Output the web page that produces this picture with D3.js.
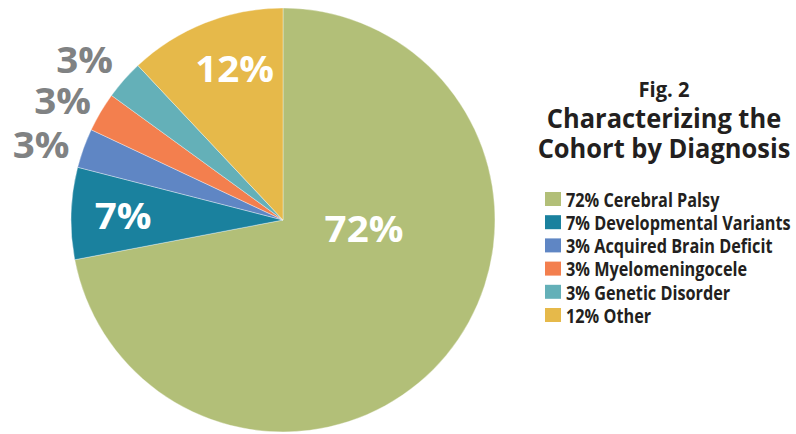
<!DOCTYPE html>
<html>
<head>
<meta charset="utf-8">
<script src="https://cdn.jsdelivr.net/npm/d3@7"></script>
<style>
  html, body { margin: 0; padding: 0; background: #fff; }
  svg { display: block; }
  text { font-family: "Open Sans", "Noto Sans", sans-serif; font-weight: 700; }
</style>
</head>
<body>
<svg id="chart" width="796" height="434"></svg>
<script>
// ---- data ----
const categories = ["Cerebral Palsy", "Developmental Variants", "Acquired Brain Deficit", "Myelomeningocele", "Genetic Disorder", "Other"];
const values = [72, 7, 3, 3, 3, 12];
const colors = ["#b2bf78", "#1a819e", "#5f86c4", "#f37f4e", "#64b0b8", "#e6b94a"];
const sliceLabels = ["72%", "7%", "3%", "3%", "3%", "12%"];
const legendLabels = ["72% Cerebral Palsy", "7% Developmental Variants", "3% Acquired Brain Deficit", "3% Myelomeningocele", "3% Genetic Disorder", "12% Other"];
const titleLines = ["Fig. 2", "Characterizing the", "Cohort by Diagnosis"];

// ---- layout ----
const cx = 283, cy = 220, R = 212;
const labelPos = [
  { dx: 81, dy: 22, inside: true },
  { dx: -160, dy: 9, inside: true },
  { dx: -242, dy: -62, inside: false },
  { dx: -220.5, dy: -106, inside: false },
  { dx: -198.5, dy: -147, inside: false },
  { dx: -48.5, dy: -138, inside: true }
];

const svg = d3.select("#chart");
const data = categories.map((c, i) => ({ cat: c, value: values[i], color: colors[i], label: sliceLabels[i], pos: labelPos[i] }));

const pie = d3.pie().value(d => d.value).sort(null);
const arc = d3.arc().innerRadius(0).outerRadius(R);

const g = svg.append("g").attr("transform", `translate(${cx},${cy})`);
const arcs = pie(data);
g.selectAll("path").data(arcs).join("path")
  .attr("d", arc)
  .attr("fill", d => d.data.color)
  .attr("stroke", "#ffffff")
  .attr("stroke-opacity", 0.6)
  .attr("stroke-width", 0.6);

const sliceText = g.selectAll("text.slice").data(arcs).join("text")
  .attr("class", "slice")
  .attr("x", d => d.data.pos.dx)
  .attr("y", d => d.data.pos.dy)
  .attr("text-anchor", "middle")
  .attr("font-size", 36)
  .attr("fill", d => d.data.pos.inside ? "#ffffff" : "#808283")
  .text(d => d.data.label);

// ---- title ----
const title = svg.append("g");
const titleSpec = [
  { y: 97, size: 21 },
  { y: 128, size: 26.5 },
  { y: 158, size: 26.5 }
];
const titleText = titleLines.map((t, i) => title.append("text")
    .attr("x", 664)
    .attr("y", titleSpec[i].y)
    .attr("text-anchor", "middle")
    .attr("font-size", titleSpec[i].size)
    .attr("fill", "#231f20")
    .text(t));

// ---- legend ----
const legend = svg.append("g").attr("transform", "translate(545,192)");
const rowH = 23.2;
const item = legend.selectAll("g").data(data).join("g")
  .attr("transform", (d, i) => `translate(0,${i * rowH})`);
item.append("rect")
  .attr("width", 16).attr("height", 14)
  .attr("fill", d => d.color);
const legText = item.append("text")
  .attr("x", 21).attr("y", 14.7)
  .attr("font-size", 18.7)
  .attr("fill", "#231f20")
  .text((d, i) => legendLabels[i]);

function stretch(sel, f) {
  sel.each(function () {
    const len = this.getComputedTextLength();
    d3.select(this).attr("textLength", len * f).attr("lengthAdjust", "spacingAndGlyphs");
  });
}
stretch(sliceText, 1.07);
titleText.forEach(t => stretch(t, 0.96));
stretch(legText, 0.87);
</script>
</body>
</html>
